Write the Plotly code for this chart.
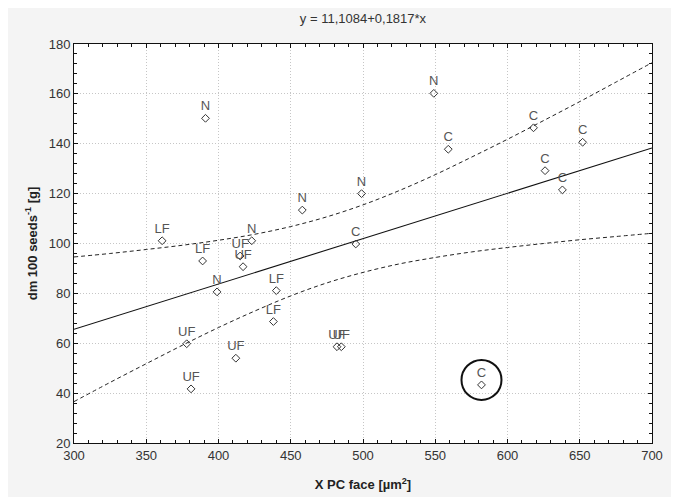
import plotly.graph_objects as go

# ---- data ----
pt_x = [391, 361, 389, 399, 378, 381, 415, 417, 423, 412, 440, 438,
        458, 482, 485, 495, 499, 549, 559, 582, 618, 626, 638, 652]
pt_y = [150.2, 101.1, 93.0, 80.6, 59.8, 41.7, 95.0, 90.7, 101.1, 54.0, 81.1, 68.7,
        113.4, 58.6, 58.6, 99.8, 120.0, 160.2, 137.8, 43.3, 146.4, 129.2, 121.5, 140.6]
pt_label = ["N", "LF", "LF", "N", "UF", "UF", "UF", "UF", "N", "UF", "LF", "LF",
            "N", "UF", "UF", "C", "N", "N", "C", "C", "C", "C", "C", "C"]

fit_x = [300, 700]
fit_y = [65.6, 138.3]

band_x = [300, 325, 350, 375, 400, 425, 450, 475, 500, 525, 550, 575, 600, 625, 650, 675, 700]
band_upper = [94.6, 96.0, 97.6, 99.3, 101.3, 103.7, 106.8, 110.7, 115.5, 121.2,
              127.6, 134.6, 141.8, 149.3, 156.9, 164.7, 172.5]
band_lower = [36.6, 44.3, 51.8, 59.2, 66.3, 72.9, 79.0, 84.2, 88.4, 91.8,
              94.4, 96.6, 98.4, 100.0, 101.5, 102.8, 104.1]

highlight_index = 19  # the circled "C" point

x_ticks = [300, 350, 400, 450, 500, 550, 600, 650, 700]
y_ticks = [20, 40, 60, 80, 100, 120, 140, 160, 180]

FONT = "Liberation Sans Narrow, Arial Narrow, Liberation Sans, Arial, sans-serif"

fig = go.Figure()

fig.add_trace(go.Scatter(x=band_x, y=band_upper, mode="lines",
                         line=dict(color="#222", width=1, dash="4px,3px", shape="spline"),
                         hoverinfo="skip", showlegend=False))
fig.add_trace(go.Scatter(x=band_x, y=band_lower, mode="lines",
                         line=dict(color="#222", width=1, dash="4px,3px", shape="spline"),
                         hoverinfo="skip", showlegend=False))
fig.add_trace(go.Scatter(x=fit_x, y=fit_y, mode="lines",
                         line=dict(color="#111", width=1.1),
                         hoverinfo="skip", showlegend=False))
fig.add_trace(go.Scatter(x=pt_x, y=pt_y, mode="markers+text", text=pt_label,
                         textposition="top center",
                         textfont=dict(family=FONT, size=13, color="#555"),
                         marker=dict(symbol="diamond-open", size=6,
                                     color="#333", line=dict(width=1, color="#333")),
                         showlegend=False))

# circle highlighting one point
fig.add_shape(type="circle", xref="x", yref="y",
              xsizemode="pixel", ysizemode="pixel",
              xanchor=pt_x[highlight_index], yanchor=pt_y[highlight_index],
              x0=-20, x1=20, y0=-15, y1=25,
              line=dict(color="#111", width=2))

axis_common = dict(
    showline=True, linecolor="#111", linewidth=1, mirror="allticks",
    ticks="inside", ticklen=4, tickcolor="#111",
    showgrid=True, gridcolor="#c6c6c6", griddash="1px,2px", gridwidth=1,
    zeroline=False,
    tickfont=dict(family=FONT, size=13, color="#333"),
)

fig.update_xaxes(range=[300, 700], tickvals=x_ticks,
                 minor=dict(ticks="inside", ticklen=3, dtick=10, tickcolor="#111", showgrid=False),
                 title=dict(text="<b>X PC face [µm<sup>2</sup>]</b>", standoff=18,
                            font=dict(family=FONT, size=13, color="#222")),
                 **axis_common)
fig.update_yaxes(range=[20, 180], tickvals=y_ticks,
                 minor=dict(ticks="inside", ticklen=3, dtick=4, tickcolor="#111", showgrid=False),
                 title=dict(text="<b>dm 100 seeds<sup>-1</sup> [g]</b>", standoff=8,
                            font=dict(family=FONT, size=13, color="#222")),
                 **axis_common)

fig.update_layout(
    width=679, height=497,
    margin=dict(l=66, r=35, t=36, b=62),
    paper_bgcolor="#f4f4f4", plot_bgcolor="white",
    title=dict(text="y = 11,1084+0,1817*x", x=355 / 679, xanchor="center",
               y=1 - 10 / 497, yanchor="middle",
               font=dict(family=FONT, size=13, color="#333")),
    font=dict(family=FONT),
)

fig.write_html("out.html")
